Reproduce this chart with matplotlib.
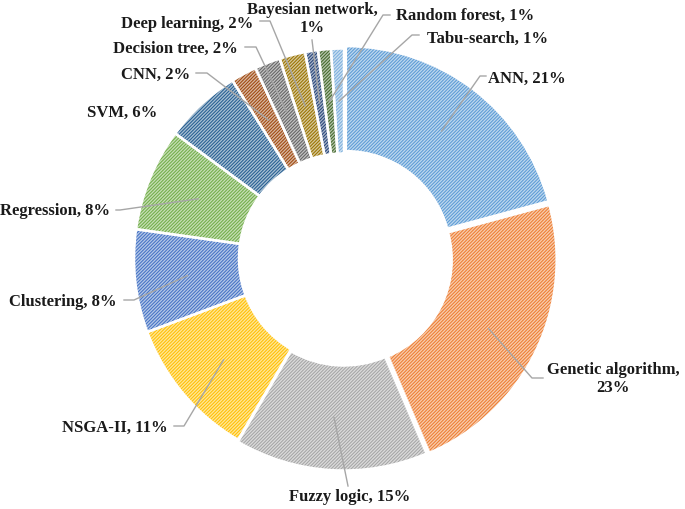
import numpy as np
import matplotlib
matplotlib.use('Agg')
import matplotlib.pyplot as plt
from matplotlib.colors import to_rgb

# datos del grafico (porcentajes)
metodos = ['ANN', 'Genetic algorithm', 'Fuzzy logic', 'NSGA-II', 'Clustering',
           'Regression', 'SVM', 'CNN', 'Decision tree', 'Deep learning',
           'Bayesian network', 'Random forest', 'Tabu-search']
porcentajes = [21, 23, 15, 11, 8, 8, 6, 2, 2, 2, 1, 1, 1]
colores = ['#5B9BD5', '#ED7D31', '#A5A5A5', '#FFC000', '#4472C4', '#70AD47',
           '#255E91', '#9E480E', '#636363', '#997300', '#264478', '#43682B',
           '#7CAFDD']

W, H = 685, 509
def py(y):  # pixel y (desde arriba) -> dato
    return H - y

# posicion etiquetas: (x, y, ha, lineas guia en px)
layout = [
    (488, 79, 'left', [(480, 76), (486, 76)]),
    (613, 379, 'center', [(532, 378), (543, 378)]),
    (350, 497, 'center', [(348, 486)]),
    (168, 428, 'right', [(184, 426), (174, 426)]),
    (117, 302, 'right', [(134, 300), (124, 300)]),
    (110, 211, 'right', [(120, 210), (116, 210)]),
    (157, 113, 'right', None),
    (190, 75, 'right', [(207, 73), (196, 73)]),
    (238, 49, 'right', [(256, 47), (245, 47)]),
    (253, 24, 'right', [(270, 21), (260, 21)]),
    (312, 19, 'center', [(312, 40)]),
    (396, 16, 'left', [(383, 15), (390, 15)]),
    (427, 39, 'left', [(412, 35), (419, 35)]),
]
dos_lineas = {'Genetic algorithm', 'Bayesian network'}

plt.rcParams['hatch.linewidth'] = 0.75

fig = plt.figure(figsize=(6.85, 5.09), dpi=100)
ax = fig.add_axes([0, 0, 1, 1])

cx, cy, R = 344, py(258.5), 210
fondos = [tuple(0.4 * np.array(to_rgb(c)) + 0.6) for c in colores]
explode = [3, 3, 2, 0, 0, 0, 0, 0, 0, 0, 0, 0, 0]

wedges, _ = ax.pie(porcentajes, colors=fondos, startangle=90, counterclock=False,
                   radius=R, center=(cx, cy), explode=explode,
                   wedgeprops=dict(width=R * 0.5, linewidth=0))
for w, c in zip(wedges, colores):
    w.set_hatch('/' * 10)
    w.set_edgecolor(c)
    w.set_linewidth(0)
# bordes blancos
wb, _ = ax.pie(porcentajes, colors=['white'] * len(porcentajes), startangle=90,
               counterclock=False, radius=R, center=(cx, cy), explode=explode,
               wedgeprops=dict(width=R * 0.5, linewidth=1.8, edgecolor='white',
                               fill=False))

for w, nombre, p, (tx, ty, ha, guia) in zip(wedges, metodos, porcentajes, layout):
    ang = np.deg2rad((w.theta1 + w.theta2) / 2)
    ax_x = w.center[0] + 0.75 * R * np.cos(ang)
    ax_y = w.center[1] + 0.75 * R * np.sin(ang)
    if guia is not None:
        xs = [ax_x] + [g[0] for g in guia]
        ys = [ax_y] + [py(g[1]) for g in guia]
        ax.plot(xs, ys, color='#A6A6A6', lw=1.0, zorder=5)
    if nombre in dos_lineas:
        txt = nombre + ',\n' + str(p) + '%'
    else:
        txt = nombre + ', ' + str(p) + '%'
    ax.text(tx, py(ty), txt, ha=ha, va='center', fontsize=12,
            fontweight='bold', family='Liberation Serif', color='#1a1a1a',
            linespacing=1.1, multialignment='center')

ax.set_xlim(0, W)
ax.set_ylim(0, H)
ax.set_aspect('equal')
ax.axis('off')

plt.savefig('out.png', dpi=100, facecolor='white')
